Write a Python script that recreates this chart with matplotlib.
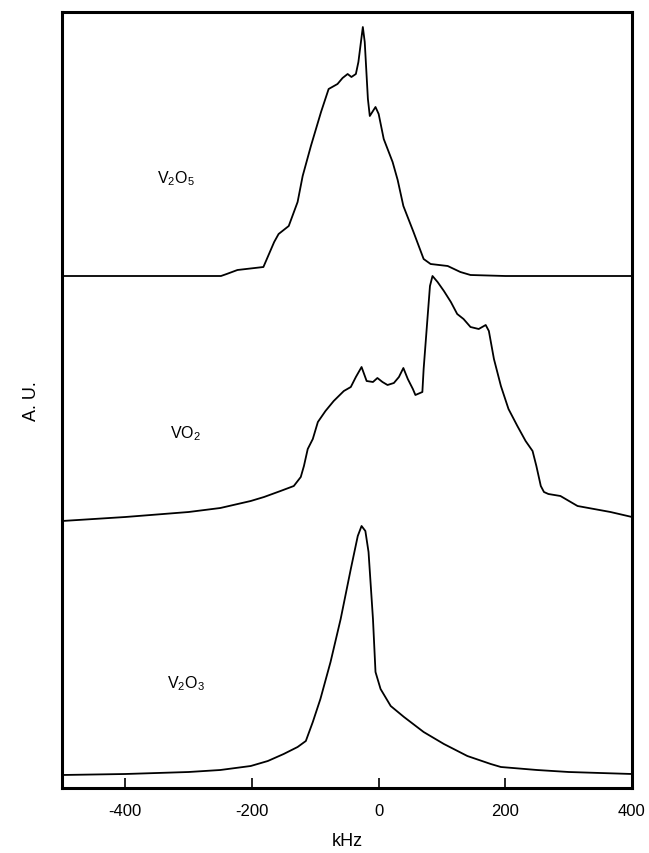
import matplotlib
matplotlib.use("Agg")
import matplotlib.pyplot as plt
import numpy as np

plt.rcParams['font.family'] = ['Liberation Sans', 'DejaVu Sans']
plt.rcParams['mathtext.default'] = 'regular'

# ---- data (kHz, arbitrary intensity) ----
v2o5_khz = [-500, -300, -249, -240, -223, -182, -165, -158, -142, -128, -120, -107, -91, -79, -65,
            -57, -49, -43, -36, -32, -25, -22, -17, -14, -5, 0, 8, 22, 30, 39, 55, 71, 82, 109, 129, 145, 200, 400]
v2o5_int = [0, 0, 0, 2, 6, 9, 34, 42, 50, 74, 100, 130, 164, 187, 192,
            198, 202, 199, 202, 214, 249, 234, 177, 160, 169, 162, 137, 114, 96, 70, 44, 17, 12, 10, 4, 1, 0, 0]

vo2_khz = [-500, -400, -300, -250, -202, -181, -155, -134, -123, -118, -112, -104, -96, -84, -71, -55,
           -44, -36, -27, -19, -9, -2, 6, 14, 24, 32, 39, 46, 54, 58, 69, 71, 77, 81, 85, 93, 103,
           114, 124, 134, 145, 158, 169, 174, 182, 193, 205, 219, 232, 243, 249, 256, 261, 268,
           287, 314, 366, 400]
vo2_int = [0, 4, 9, 13, 20, 24, 30, 35, 44, 55, 72, 82, 99, 110, 120, 130,
           134, 144, 154, 140, 139, 143, 139, 136, 138, 144, 153, 142, 132, 126, 129, 152, 202, 235, 245, 239, 230,
           219, 207, 202, 194, 192, 196, 190, 162, 135, 112, 95, 80, 70, 55, 35, 29, 27,
           25, 15, 9, 4]

v2o3_khz = [-500, -400, -300, -250, -202, -175, -150, -128, -115, -104, -92, -76, -60, -44, -33, -27, -21,
            -16, -9, -5, 3, 19, 40, 71, 103, 140, 177, 193, 250, 300, 400]
v2o3_int = [0, 1, 3, 5, 9, 14, 21, 28, 34, 53, 76, 113, 156, 206, 239, 249, 244,
            223, 156, 103, 86, 69, 58, 43, 31, 19, 11, 8, 5, 3, 1]

labels = [r'V$_2$O$_5$', r'VO$_2$', r'V$_2$O$_3$']
xticks = [-400, -200, 0, 200, 400]

# ---- layout ----
offsets = [512, 267, 13]
label_pos = [(-320, 610), (-305, 355), (-305, 105)]

fig = plt.figure(figsize=(6.49, 8.54), dpi=100)
ax = fig.add_axes([62/649, 1-789/854, (632-62)/649, (789-13)/854])

for xs, ys, off in zip([v2o5_khz, vo2_khz, v2o3_khz], [v2o5_int, vo2_int, v2o3_int], offsets):
    ax.plot(xs, np.asarray(ys) + off, color='black', lw=1.3)

for lab, (lx, ly) in zip(labels, label_pos):
    ax.text(lx, ly, lab, fontsize=11.5, ha='center', va='center')

ax.set_xlim(-500, 400)
ax.set_ylim(0, 776)
ax.set_xticks(xticks)
ax.set_xticklabels([str(t) for t in xticks], fontsize=12)
ax.set_yticks([])
ax.tick_params(axis='x', direction='in', length=7, width=1.2, pad=11)
for s in ax.spines.values():
    s.set_linewidth(2.2)
ax.set_xlabel('kHz', fontsize=13, labelpad=10)
ax.set_ylabel('A. U.', fontsize=13, labelpad=16)

fig.savefig('out.png', dpi=100)
